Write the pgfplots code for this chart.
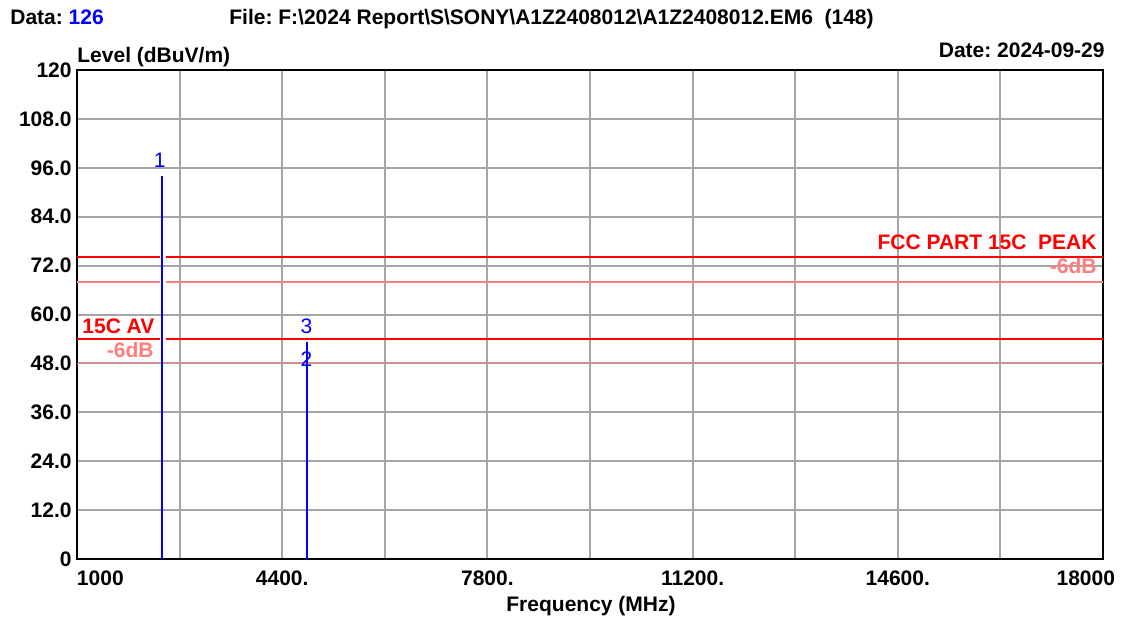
\documentclass[border=0pt]{standalone}
\usepackage{fontspec}
\setmainfont{Liberation Sans}
\usepackage{pgfplots}
\pgfplotsset{compat=1.18}
\definecolor{limred}{RGB}{255,0,0}
\definecolor{palered}{RGB}{255,125,125}
\definecolor{gridgray}{RGB}{165,165,165}
\definecolor{mkblue}{RGB}{0,0,255}
\frenchspacing
\begin{document}
\begin{tikzpicture}[font=\fontsize{10.5}{12}\selectfont\bfseries]
\begin{axis}[
  at={(0,0)}, anchor=south west,
  scale only axis, width=513pt, height=244.5pt,
  xmin=1000, xmax=18000, ymin=0, ymax=120,
  scaled x ticks=false, scaled y ticks=false,
  xtick={1000,2700,4400,6100,7800,9500,11200,12900,14600,16300,18000},
  xticklabels={\makebox[0pt][l]{1000},,4400.,,7800.,,11200.,,14600.,,\makebox[0pt][r]{18000\hspace{-6pt}}},
  ytick={0,12,24,36,48,60,72,84,96,108,120},
  yticklabels={0,12.0,24.0,36.0,48.0,60.0,72.0,84.0,96.0,108.0,120},
  major tick length=0pt,
  grid=major, major grid style={gridgray, line width=1pt},
  axis line style={black, line width=1.2pt},
  xticklabel style={inner sep=0pt, anchor=north, yshift=-5.5pt},
  yticklabel style={inner sep=0pt, anchor=east, xshift=-2.5pt},
  clip=false,
]
% limit lines (gap around marker 1)
\addplot[limred, line width=1pt] coordinates {(1000,74) (2375,74)};
\addplot[limred, line width=1pt] coordinates {(2475,74) (18000,74)};
\addplot[palered, line width=0.8pt] coordinates {(1000,68) (2375,68)};
\addplot[palered, line width=0.8pt] coordinates {(2475,68) (18000,68)};
\addplot[limred, line width=1pt] coordinates {(1000,54) (2375,54)};
\addplot[limred, line width=1pt] coordinates {(2475,54) (18000,54)};
\addplot[palered, line width=0.8pt] coordinates {(1000,48) (2375,48)};
\addplot[palered, line width=0.8pt] coordinates {(2475,48) (18000,48)};
% markers
\addplot[mkblue, line width=1pt, ycomb] coordinates {(2402,94.0)};
\addplot[mkblue, line width=1pt, ycomb] coordinates {(4804,53.3)};
\addplot[mkblue, line width=1pt, ycomb] coordinates {(4804,45.4)};
\node[mkblue, font=\fontsize{10.5}{12}\selectfont\mdseries, anchor=base, inner sep=0pt, xshift=-1pt, yshift=4pt] at (axis cs:2402,94.0) {1};
\node[mkblue, font=\fontsize{10.5}{12}\selectfont\mdseries, anchor=base, inner sep=0pt, yshift=4pt] at (axis cs:4804,53.3) {3};
\node[mkblue, font=\fontsize{10.5}{12}\selectfont\mdseries, anchor=base, inner sep=0pt, yshift=4pt] at (axis cs:4804,45.4) {2};
% limit labels
\node[limred, anchor=base east, inner sep=0pt] at (axis cs:17900,75.83) {FCC PART 15C\ \ PEAK};
\node[palered, anchor=base east, inner sep=0pt] at (axis cs:17900,69.94) {-6dB};
\node[limred, anchor=base west, inner sep=0pt] at (axis cs:1083,55.46) {15C AV};
\node[palered, anchor=base east, inner sep=0pt] at (axis cs:2276,49.57) {-6dB};
\end{axis}
\node[anchor=base west, inner sep=0pt] at (-33.5pt,267.3pt) {Data: \textcolor{mkblue}{126}};
\node[anchor=base west, inner sep=0pt] at (76pt,267.3pt) {File: F:\textbackslash 2024 Report\textbackslash S\textbackslash SONY\textbackslash A1Z2408012\textbackslash A1Z2408012.EM6\ \ (148)};
\node[anchor=base west, inner sep=0pt] at (0pt,248pt) {Level (dBuV/m)};
\node[anchor=base east, inner sep=0pt] at (514pt,250.8pt) {Date: 2024-09-29};
\node[anchor=base, inner sep=0pt] at (257pt,-26pt) {Frequency (MHz)};
\pgfresetboundingbox
\useasboundingbox (-38.5pt,-29pt) rectangle (523pt,279.5pt);
\end{tikzpicture}
\end{document}
